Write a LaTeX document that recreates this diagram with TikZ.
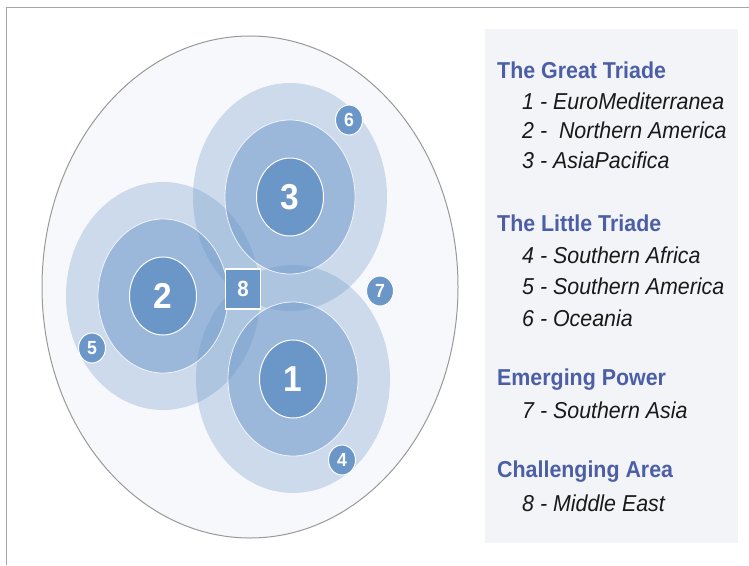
\documentclass[tikz,border=0pt]{standalone}
\usepackage{fontspec}
\setmainfont{Liberation Sans}
\newfontfamily\legendfont[FakeStretch=0.93]{Liberation Sans}
\usetikzlibrary{shapes.geometric}
\definecolor{zoneblue}{HTML}{6B96C8}
\definecolor{panelgray}{HTML}{F2F4F8}
\definecolor{worldgray}{HTML}{F7F8FB}
\definecolor{headblue}{HTML}{4C5FA6}
\tikzset{
  outerzone/.style={fill=zoneblue, fill opacity=0.30},
  midzone/.style={fill=zoneblue, fill opacity=0.50, draw=white, draw opacity=0.8, line width=0.8pt},
  core/.style={ellipse, fill=zoneblue, draw=white, line width=1pt, minimum width=67pt, minimum height=78pt,
    inner sep=0pt, text=white, font=\legendfont\fontsize{36}{36}\selectfont\bfseries},
  badge/.style={ellipse, fill=zoneblue, draw=white, line width=1pt, minimum width=27pt, minimum height=30pt,
    inner sep=0pt, text=white, font=\legendfont\fontsize{19}{19}\selectfont\bfseries},
  heading/.style={anchor=west, inner sep=0pt, text=headblue, font=\legendfont\fontsize{23}{26}\selectfont\bfseries},
  item/.style={anchor=west, inner sep=0pt, text=black!90, font=\legendfont\fontsize{23}{26}\selectfont\itshape}
}
\begin{document}
\begin{tikzpicture}[x=1pt,y=-1pt]
    \useasboundingbox (0,0) rectangle (749,565);
    \fill[white] (0,0) rectangle (749,565);
    % Frame
    \draw[gray!70, line width=1pt] (749,7) -- (6,7) -- (6,565);
    % World
    \filldraw[fill=worldgray, draw=gray!80, line width=1pt] (250,287) ellipse [x radius=208pt, y radius=251pt];
    % Outer zones
    \fill[outerzone] (290,197) ellipse [x radius=97pt, y radius=114pt];
    \fill[outerzone] (163,296) ellipse [x radius=97pt, y radius=114pt];
    \fill[outerzone] (293,379) ellipse [x radius=97pt, y radius=114pt];
    % Middle zones
    \filldraw[midzone] (290,197) ellipse [x radius=65pt, y radius=77pt];
    \filldraw[midzone] (163,296) ellipse [x radius=65pt, y radius=77pt];
    \filldraw[midzone] (293,379) ellipse [x radius=65pt, y radius=77pt];
    % Cores
    \node[core] (c1) at (293,379) {1};
    \node[core] (c2) at (163,296) {2};
    \node[core] (c3) at (290,197) {3};
    % Little triade, emerging power, challenging area
    \node[badge] (b4) at (342,460) {4};
    \node[badge] (b5) at (92,348) {5};
    \node[badge] (b6) at (349,120) {6};
    \node[badge] (b7) at (380,291) {7};
    \node[rectangle, fill=zoneblue, draw=white, line width=1.5pt, minimum width=35pt, minimum height=40pt,
      inner sep=0pt, text=white, font=\legendfont\fontsize{22}{22}\selectfont\bfseries] (b8) at (243,289) {8};
    % Legend
    \fill[panelgray] (485,29) rectangle (738,543);
    \node[heading] (great) at (497,70) {The Great Triade};
    \node[item] (l1) at (522,101) {1 - EuroMediterranea};
    \node[item] (l2) at (522,130) {2 - \ Northern America};
    \node[item] (l3) at (522,160) {3 - AsiaPacifica};
    \node[heading] (little) at (497,223) {The Little Triade};
    \node[item] (l4) at (522,255) {4 - Southern Africa};
    \node[item] (l5) at (522,286) {5 - Southern America};
    \node[item] (l6) at (522,318) {6 - Oceania};
    \node[heading] (emerging) at (497,380) {Emerging Power};
    \node[item] (l7) at (522,410) {7 - Southern Asia};
    \node[heading] (challenge) at (497,472) {Challenging Area};
    \node[item] (l8) at (522,503) {8 - Middle East};
\end{tikzpicture}
\end{document}
